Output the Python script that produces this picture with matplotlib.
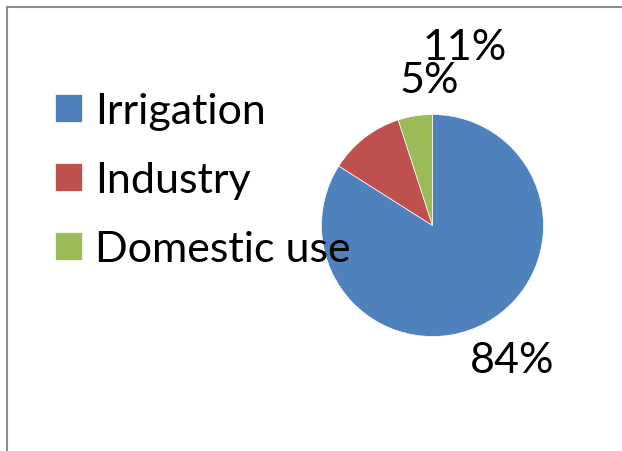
import matplotlib
matplotlib.use('Agg')
import matplotlib.pyplot as plt
from matplotlib.patches import Rectangle

plt.rcParams['font.family'] = ['Lato', 'DejaVu Sans']

categories = ['Irrigation', 'Industry', 'Domestic use']
shares = [84, 11, 5]
pct_labels = ['84%', '11%', '5%']
colors = ['#4F81BD', '#C0504D', '#9BBB59']

W, H = 622, 452
fig = plt.figure(figsize=(W / 100, H / 100), dpi=100)

# outer chart frame (only left and top edges are visible)
fig.patches.append(Rectangle((7 / W, -0.1), 1.2, (H - 8) / H + 0.1,
                             transform=fig.transFigure, fill=False,
                             edgecolor='#8c8c8c', linewidth=1.5))

cx, cy, r = 432.5, 226.5, 111
ax = fig.add_axes([(cx - r) / W, (H - cy - r) / H, 2 * r / W, 2 * r / H])
wedges, _ = ax.pie(shares, colors=colors, startangle=90, counterclock=False,
                   wedgeprops=dict(edgecolor='white', linewidth=0.5))
ax.set_xlim(-1, 1)
ax.set_ylim(-1, 1)
ax.set_aspect('equal')
ax.axis('off')

# label positions in pie radius units, nudged like the original layout
label_pos = [(0.72, -1.21), (0.29, 1.61), (-0.03, 1.31)]
for txt, (x, y) in zip(pct_labels, label_pos):
    ax.text(x, y, txt, ha='center', va='center', fontsize=31, color='black')

fs = 31
fig.legend(wedges, categories, loc='upper left',
           bbox_to_anchor=(38 / W, 1 - 76 / H), frameon=False,
           fontsize=fs, handlelength=0.63, handleheight=0.63,
           handletextpad=0.3, labelspacing=0.72, borderaxespad=0)

fig.savefig('out.png', dpi=100)
